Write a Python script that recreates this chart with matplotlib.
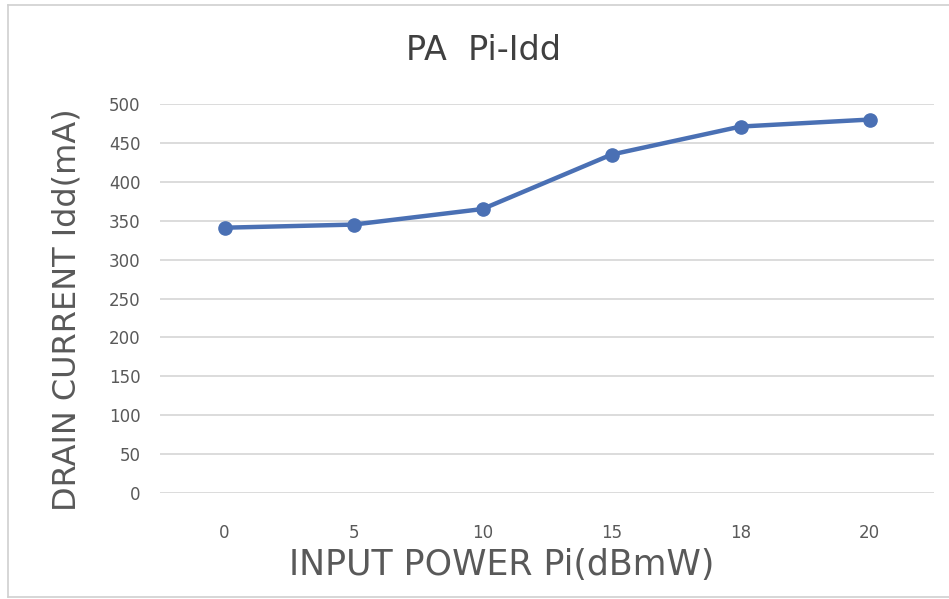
import matplotlib
matplotlib.use("Agg")
import matplotlib.pyplot as plt
from matplotlib.lines import Line2D

categories = ["0", "5", "10", "15", "18", "20"]
idd_ma = [341, 345, 365, 435, 471, 480]
y_ticks = [0, 50, 100, 150, 200, 250, 300, 350, 400, 450, 500]

W, H = 949, 599
fig = plt.figure(figsize=(W / 100, H / 100), dpi=100)
fig.patch.set_facecolor("white")

L, R, T, B = 160, 934, 104, 493
ax = fig.add_axes([L / W, 1 - B / H, (R - L) / W, (B - T) / H])
x = list(range(len(categories)))
ax.plot(x, idd_ma, color="#4A70B4", lw=3.2, marker="o", ms=9.5, zorder=3)
ax.set_xlim(-0.5, len(categories) - 0.5)
ax.set_ylim(0, 500)
ax.set_xticks(x)
ax.set_xticklabels(categories)
ax.set_yticks(y_ticks)
ax.grid(axis="y", color="#d9d9d9", lw=1.3)
ax.set_axisbelow(True)
for s in ax.spines.values():
    s.set_visible(False)
ax.tick_params(length=0, labelsize=12, labelcolor="#595959")
ax.tick_params(axis="y", pad=14)
ax.tick_params(axis="x", pad=22)

fig.text(484 / W, 1 - 50 / H, "PA  Pi-Idd", ha="center", va="center",
         fontsize=24, color="#404040")
fig.text(502 / W, 1 - 565 / H, "INPUT POWER Pi(dBmW)", ha="center", va="center",
         fontsize=25, color="#595959")
fig.text(67 / W, 1 - 310 / H, "DRAIN CURRENT Idd(mA)", ha="center", va="center",
         rotation=90, fontsize=23, color="#595959")

# chart frame
fig.add_artist(Line2D([8 / W, 8 / W], [1 - 5 / H, 1 - 597 / H], color="#d0d0d0", lw=1.2))
fig.add_artist(Line2D([8 / W, 1], [1 - 5 / H, 1 - 5 / H], color="#d0d0d0", lw=1.2))
fig.add_artist(Line2D([8 / W, 1], [1 - 597 / H, 1 - 597 / H], color="#d0d0d0", lw=1.2))

fig.savefig("out.png", dpi=100)
